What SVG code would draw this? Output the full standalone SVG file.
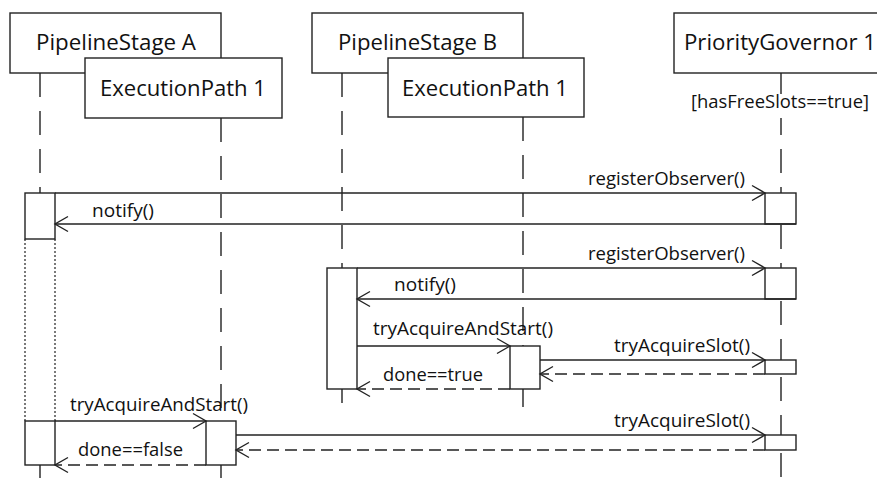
<svg xmlns="http://www.w3.org/2000/svg" width="877" height="478" viewBox="0 0 877 478">
  <style>
    .box { fill: #fff; stroke: #222; stroke-width: 1.4; }
    .act { fill: #fff; stroke: #222; stroke-width: 1.4; }
    .life { fill: none; stroke: #222; stroke-width: 1.4; stroke-dasharray: 24 14; }
    .dot { fill: none; stroke: #222; stroke-width: 1.2; stroke-dasharray: 2 2; }
    .msg { fill: none; stroke: #222; stroke-width: 1.4; marker-end: url(#open); }
    .ret { fill: none; stroke: #222; stroke-width: 1.4; stroke-dasharray: 12 6; marker-end: url(#open); }
    text { font-family: "Open Sans", "Liberation Sans", sans-serif; fill: #111; }
    .title { font-size: 21px; }
    .lbl { font-size: 18px; }
  </style>
  <defs>
    <marker id="open" markerUnits="userSpaceOnUse" viewBox="-15 -9 17 18" markerWidth="17" markerHeight="18" refX="0" refY="0" orient="auto" overflow="visible">
      <path d="M-13,-7.5 L0,0 L-13,7.5" fill="none" stroke="#222" stroke-width="1.4"/>
    </marker>
  </defs>

  <!-- lifelines -->
  <g id="lifelines">
    <line class="life" x1="40" y1="73" x2="40" y2="193"/>
    <line class="life" x1="40" y1="465" x2="40" y2="478"/>
    <line class="life" x1="221" y1="118" x2="221" y2="421"/>
    <line class="life" x1="221" y1="465" x2="221" y2="478"/>
    <line class="life" x1="342" y1="73" x2="342" y2="268"/>
    <line class="life" x1="342" y1="389" x2="342" y2="403"/>
    <line class="life" x1="523" y1="117" x2="523" y2="346"/>
    <line class="life" x1="523" y1="389" x2="523" y2="407"/>
    <line class="life" x1="781" y1="73" x2="781" y2="478"/>
    <line class="dot" x1="25" y1="239" x2="25" y2="421"/>
    <line class="dot" x1="55" y1="239" x2="55" y2="421"/>
  </g>

  <!-- participants -->
  <g id="stageA">
    <rect class="box" x="10" y="13" width="211" height="60"/>
    <text class="title" x="36" y="50" textLength="160" lengthAdjust="spacingAndGlyphs">PipelineStage A</text>
  </g>
  <g id="pathA">
    <rect class="box" x="85" y="58" width="197" height="60"/>
    <text class="title" x="100" y="96" textLength="166" lengthAdjust="spacingAndGlyphs">ExecutionPath 1</text>
  </g>
  <g id="stageB">
    <rect class="box" x="312" y="13" width="211" height="60"/>
    <text class="title" x="338" y="50" textLength="159" lengthAdjust="spacingAndGlyphs">PipelineStage B</text>
  </g>
  <g id="pathB">
    <rect class="box" x="388" y="58" width="196" height="59"/>
    <text class="title" x="402" y="96" textLength="166" lengthAdjust="spacingAndGlyphs">ExecutionPath 1</text>
  </g>
  <g id="governor">
    <rect class="box" x="674" y="13" width="211" height="60"/>
    <text class="title" x="684" y="50" textLength="192" lengthAdjust="spacingAndGlyphs">PriorityGovernor 1</text>
    <rect x="690" y="94" width="180" height="24" fill="#fff"/>
    <text class="lbl" x="691" y="108" textLength="178" lengthAdjust="spacingAndGlyphs">[hasFreeSlots==true]</text>
  </g>

  <!-- activations -->
  <g id="activations">
    <rect class="act" x="25" y="193" width="30" height="46"/>
    <rect class="act" x="25" y="421" width="30" height="44"/>
    <rect class="act" x="327" y="268" width="30" height="121"/>
    <rect class="act" x="510" y="346" width="30" height="43"/>
    <rect class="act" x="206" y="421" width="30" height="44"/>
    <rect class="act" x="765" y="193" width="31" height="31"/>
    <rect class="act" x="765" y="268" width="31" height="31"/>
    <rect class="act" x="765" y="360" width="31" height="14"/>
    <rect class="act" x="765" y="435" width="31" height="15"/>
  </g>

  <!-- messages -->
  <g id="connectors">
    <line class="msg" x1="55" y1="193" x2="765" y2="193"/>
    <line class="msg" x1="796" y1="224" x2="55" y2="224"/>
    <line class="msg" x1="357" y1="268" x2="765" y2="268"/>
    <line class="msg" x1="796" y1="299" x2="357" y2="299"/>
    <line class="msg" x1="357" y1="346" x2="510" y2="346"/>
    <line class="msg" x1="540" y1="360" x2="765" y2="360"/>
    <line class="ret" x1="765" y1="374" x2="540" y2="374"/>
    <line class="ret" x1="510" y1="389" x2="357" y2="389"/>
    <line class="msg" x1="55" y1="421" x2="206" y2="421"/>
    <line class="msg" x1="236" y1="435" x2="765" y2="435"/>
    <line class="ret" x1="765" y1="450" x2="236" y2="450"/>
    <line class="ret" x1="206" y1="465" x2="55" y2="465"/>
  </g>

  <!-- message labels -->
  <g id="labels">
    <text class="lbl" x="588" y="185" textLength="157" lengthAdjust="spacingAndGlyphs">registerObserver()</text>
    <text class="lbl" x="92" y="217" textLength="62" lengthAdjust="spacingAndGlyphs">notify()</text>
    <text class="lbl" x="588" y="260" textLength="157" lengthAdjust="spacingAndGlyphs">registerObserver()</text>
    <text class="lbl" x="394" y="291" textLength="62" lengthAdjust="spacingAndGlyphs">notify()</text>
    <text class="lbl" x="373" y="335" textLength="180" lengthAdjust="spacingAndGlyphs">tryAcquireAndStart()</text>
    <text class="lbl" x="614" y="352" textLength="136" lengthAdjust="spacingAndGlyphs">tryAcquireSlot()</text>
    <text class="lbl" x="383" y="381" textLength="100" lengthAdjust="spacingAndGlyphs">done==true</text>
    <text class="lbl" x="70" y="411" textLength="178" lengthAdjust="spacingAndGlyphs">tryAcquireAndStart()</text>
    <text class="lbl" x="614" y="427" textLength="136" lengthAdjust="spacingAndGlyphs">tryAcquireSlot()</text>
    <text class="lbl" x="78" y="456" textLength="105" lengthAdjust="spacingAndGlyphs">done==false</text>
  </g>
</svg>
